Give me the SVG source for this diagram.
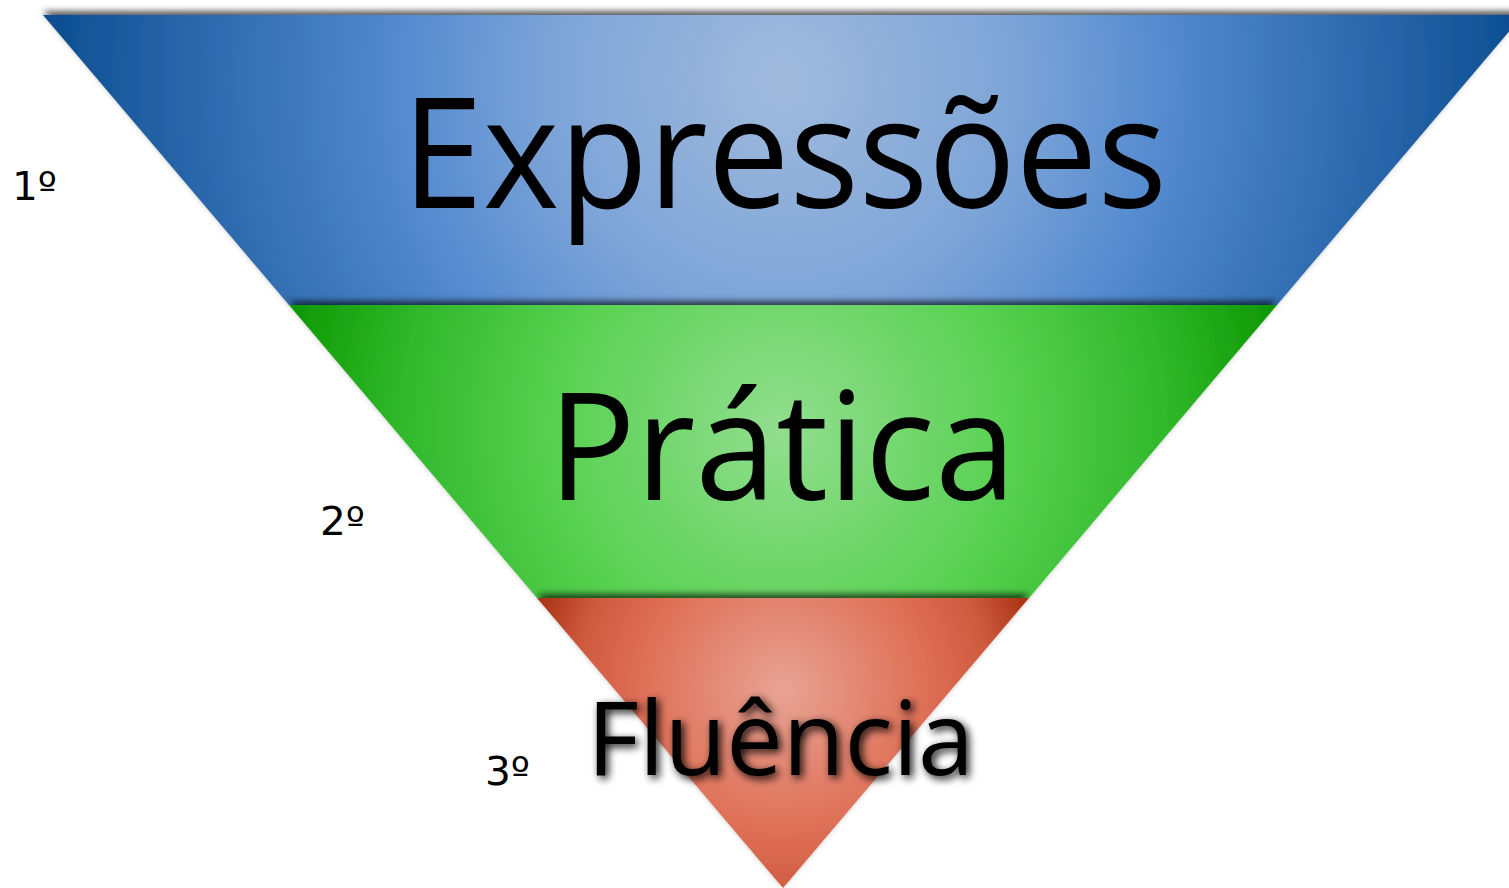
<svg xmlns="http://www.w3.org/2000/svg" width="1509" height="888" viewBox="0 0 1509 888">
  <style>
    .big { font-family: "Open Sans", "Noto Sans", "Liberation Sans", sans-serif; fill: #000; }
    .num { font-family: "DejaVu Sans", "Liberation Sans", sans-serif; font-size: 39px; fill: #000; }
  </style>
  <defs>
    <radialGradient id="gBlue" gradientUnits="userSpaceOnUse" cx="783" cy="80" r="760">
      <stop offset="0" stop-color="#a0badc"/>
      <stop offset="0.3" stop-color="#7ea5d8"/>
      <stop offset="0.5" stop-color="#558bd0"/>
      <stop offset="0.8" stop-color="#2764a8"/>
      <stop offset="1" stop-color="#064a8c"/>
    </radialGradient>
    <radialGradient id="gGreen" gradientUnits="userSpaceOnUse" cx="783" cy="430" r="510">
      <stop offset="0" stop-color="#92de8f"/>
      <stop offset="0.45" stop-color="#58d151"/>
      <stop offset="0.75" stop-color="#30b82a"/>
      <stop offset="1" stop-color="#0c9702"/>
    </radialGradient>
    <radialGradient id="gRed" gradientUnits="userSpaceOnUse" cx="783" cy="690" r="275">
      <stop offset="0" stop-color="#e8a394"/>
      <stop offset="0.5" stop-color="#df7158"/>
      <stop offset="0.75" stop-color="#cf5a3e"/>
      <stop offset="1" stop-color="#9c2707"/>
    </radialGradient>
    <filter id="shUp" x="-5%" y="-20%" width="110%" height="140%">
      <feDropShadow dx="0" dy="-4" stdDeviation="3" flood-color="#000" flood-opacity="0.65"/>
    </filter>
    <filter id="txtSh" x="-10%" y="-30%" width="120%" height="160%">
      <feGaussianBlur in="SourceAlpha" stdDeviation="4.5" result="b"/>
      <feOffset in="b" dx="3" dy="3" result="o"/>
      <feComponentTransfer in="o" result="oo">
        <feFuncA type="linear" slope="0.95"/>
      </feComponentTransfer>
      <feMerge>
        <feMergeNode in="oo"/>
        <feMergeNode in="SourceGraphic"/>
      </feMerge>
    </filter>
  </defs>

  <rect width="1509" height="888" fill="#ffffff"/>

  <g id="band1">
    <polygon points="43,15 1523,15 1277,305 289,305" fill="url(#gBlue)" filter="url(#shUp)"/>
    <text class="big" x="402" y="208" font-size="154" textLength="765" lengthAdjust="spacingAndGlyphs">Expressões</text>
  </g>

  <g id="band2">
    <polygon points="289,305 1277,305 1029,598 537,598" fill="url(#gGreen)" filter="url(#shUp)"/>
    <text class="big" x="548" y="500" font-size="151" textLength="468" lengthAdjust="spacingAndGlyphs">Prática</text>
  </g>

  <g id="band3">
    <polygon points="537,598 1029,598 783,888" fill="url(#gRed)" filter="url(#shUp)"/>
    <text class="big" x="587" y="775" font-size="102" textLength="387" lengthAdjust="spacingAndGlyphs" filter="url(#txtSh)">Fluência</text>
  </g>

  <g id="labels">
    <text class="num" x="12" y="200" textLength="45" lengthAdjust="spacingAndGlyphs">1º</text>
    <text class="num" x="320" y="535" textLength="45" lengthAdjust="spacingAndGlyphs">2º</text>
    <text class="num" x="485" y="785" textLength="45" lengthAdjust="spacingAndGlyphs">3º</text>
  </g>
</svg>
